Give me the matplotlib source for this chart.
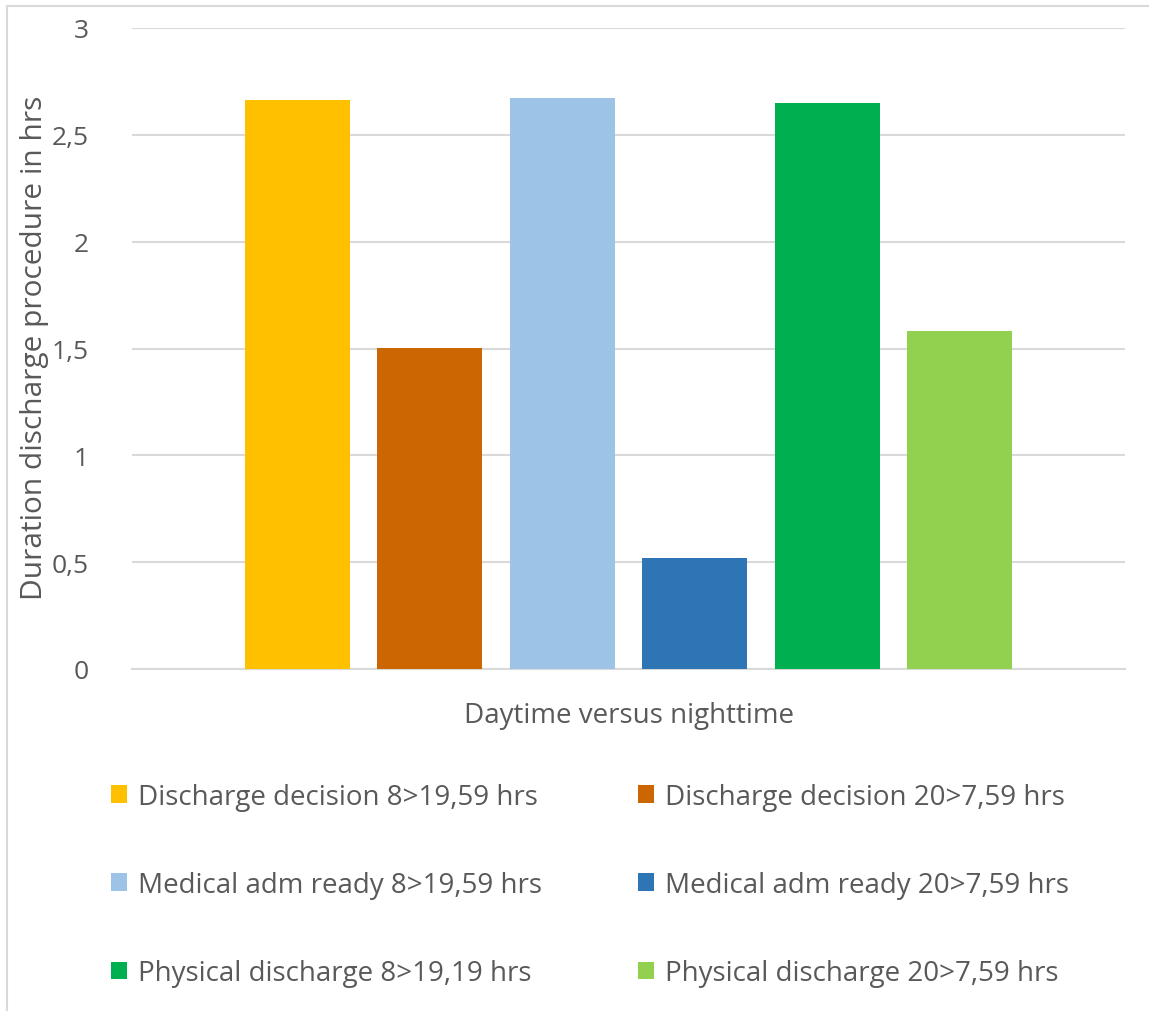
import matplotlib.pyplot as plt
from matplotlib.patches import Rectangle
from matplotlib.ticker import FuncFormatter

# series (one bar each)
labels = [
    "Discharge decision 8>19,59 hrs",
    "Discharge decision 20>7,59 hrs",
    "Medical adm ready 8>19,59 hrs",
    "Medical adm ready 20>7,59 hrs",
    "Physical discharge 8>19,19 hrs",
    "Physical discharge 20>7,59 hrs",
]
values = [2.663, 1.502, 2.672, 0.519, 2.649, 1.582]
colors = ["#FFC000", "#CC6600", "#9DC3E6", "#2E75B6", "#00B050", "#92D050"]
yticks = [0, 0.5, 1, 1.5, 2, 2.5, 3]

txt = "#595959"
grid = "#D9D9D9"
plt.rcParams['font.family'] = ['Open Sans', 'DejaVu Sans']

W, H = 1149, 1012
fig = plt.figure(figsize=(W / 100, H / 100), dpi=100)

# chart border (cropped at right and bottom)
fig.patches.append(Rectangle((7 / W, -0.1), 1.2, 1 - 7 / H + 0.1,
                             transform=fig.transFigure, fill=False,
                             edgecolor=grid, linewidth=1.5))

ax = fig.add_axes([132 / W, 1 - 670 / H, (1125 - 132) / W, (670 - 29) / H])

xs = range(len(values))
handles = []
for x, v, c, lab in zip(xs, values, colors, labels):
    h = ax.bar(x, v, width=0.79, color=c, label=lab, zorder=3)
    handles.append(h)

ax.set_xlim(-1.247, 6.247)
ax.set_ylim(0, 3)
ax.set_yticks(yticks)
ax.yaxis.set_major_formatter(FuncFormatter(lambda v, p: f"{v:g}".replace(".", ",")))
ax.set_xticks([])
ax.grid(axis="y", color=grid, linewidth=1.5, zorder=0)
for s in ["top", "right", "left"]:
    ax.spines[s].set_visible(False)
ax.spines["bottom"].set_color(grid)
ax.spines["bottom"].set_linewidth(1.5)
ax.tick_params(axis="y", length=0, pad=31, labelsize=19, labelcolor=txt)

ax.set_xlabel("Daytime versus nighttime", fontsize=20, color=txt, labelpad=23)
fig.text(35 / W, 1 - 348 / H, "Duration discharge procedure in hrs", rotation=90,
         ha="center", va="center", fontsize=21.5, color=txt)

# legend filled row by row
order = [0, 2, 4, 1, 3, 5]
fig.legend(handles=[handles[i] for i in order], labels=[labels[i] for i in order],
           ncol=2, loc="center", bbox_to_anchor=(590 / W, 1 - 886 / H), frameon=False,
           fontsize=20, labelcolor=txt, handlelength=0.6, handleheight=0.6,
           handletextpad=0.4, columnspacing=3.43, labelspacing=2.17)

fig.savefig("out.png", dpi=100)
